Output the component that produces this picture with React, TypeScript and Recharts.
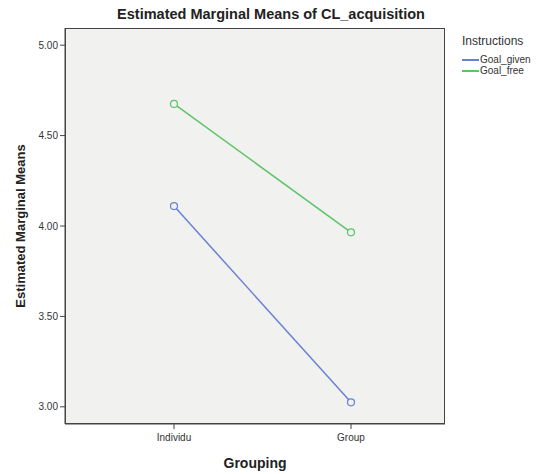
import { LineChart, Line, XAxis, YAxis, CartesianGrid } from 'recharts'

const groupings = ['Individu', 'Group']
const goalGiven = [4.11, 3.025]
const goalFree = [4.675, 3.965]
const yTicks = [3.0, 3.5, 4.0, 4.5, 5.0]
const seriesNames = ['Goal_given', 'Goal_free']

const data = groupings.map((g, i) => ({ name: g, Goal_given: goalGiven[i], Goal_free: goalFree[i] }))

const BLUE = '#6a80d4'
const GREEN = '#5ec46a'
const colors = [BLUE, GREEN]
const FONT = 'Arial, "Liberation Sans", sans-serif'

export default function App() {
  return (
    <div style={{ position: 'relative', width: 538, height: 474, background: '#fff', fontFamily: FONT }}>
      <style>{'body{margin:0}'}</style>
      <div style={{ position: 'absolute', top: 6, left: 0, width: 538, textAlign: 'center', paddingLeft: 2, fontSize: 14.5, fontWeight: 'bold', color: '#222' }}>
        Estimated Marginal Means of CL_acquisition
      </div>
      {/* legend, SPSS style */}
      <div style={{ position: 'absolute', top: 35, left: 462, color: '#333', lineHeight: 1 }}>
        <div style={{ fontSize: 12, marginBottom: 7 }}>Instructions</div>
        {seriesNames.map((s, i) => (
          <div key={s} style={{ display: 'flex', alignItems: 'center', fontSize: 10, height: 11 }}>
            <span style={{ display: 'inline-block', width: 17, height: 2, background: colors[i], marginRight: 1 }} />
            {s}
          </div>
        ))}
      </div>
      <LineChart width={538} height={474} data={data} margin={{ top: 28, right: 93, bottom: 20, left: 15 }}>
        <CartesianGrid fill="#f1f1f0" horizontal={false} vertical={false} />
        <XAxis
          dataKey="name"
          padding={{ left: 109, right: 94 }}
          height={30}
          tickSize={5}
          stroke="#444"
          tick={{ fill: '#333', fontSize: 10, fontFamily: FONT, dy: 3 }}
          label={{ value: 'Grouping', position: 'insideBottom', offset: -14, fill: '#222', fontSize: 14, fontWeight: 'bold', fontFamily: FONT }}
        />
        <YAxis
          domain={[2.905, 5.095]}
          ticks={yTicks}
          width={50}
          tickSize={5}
          stroke="#444"
          tickFormatter={(v: number) => v.toFixed(2)}
          tick={{ fill: '#333', fontSize: 10, fontFamily: FONT }}
          label={{ value: 'Estimated Marginal Means', angle: -90, position: 'insideLeft', offset: 0, dx: 5, fill: '#222', fontSize: 13, fontWeight: 'bold', fontFamily: FONT, style: { textAnchor: 'middle' } }}
        />
        <Line
          dataKey="Goal_given"
          stroke={BLUE}
          strokeWidth={1.5}
          dot={{ r: 3.5, stroke: BLUE, strokeWidth: 1.2, fill: '#f1f1f0' }}
          isAnimationActive={false}
        />
        <Line
          dataKey="Goal_free"
          stroke={GREEN}
          strokeWidth={1.5}
          dot={{ r: 3.5, stroke: GREEN, strokeWidth: 1.2, fill: '#f1f1f0' }}
          isAnimationActive={false}
        />
      </LineChart>
      {/* plot frame */}
      <div style={{ position: 'absolute', left: 65, top: 28, width: 380, height: 396, boxSizing: 'border-box', border: '1px solid #444', pointerEvents: 'none' }} />
    </div>
  )
}
